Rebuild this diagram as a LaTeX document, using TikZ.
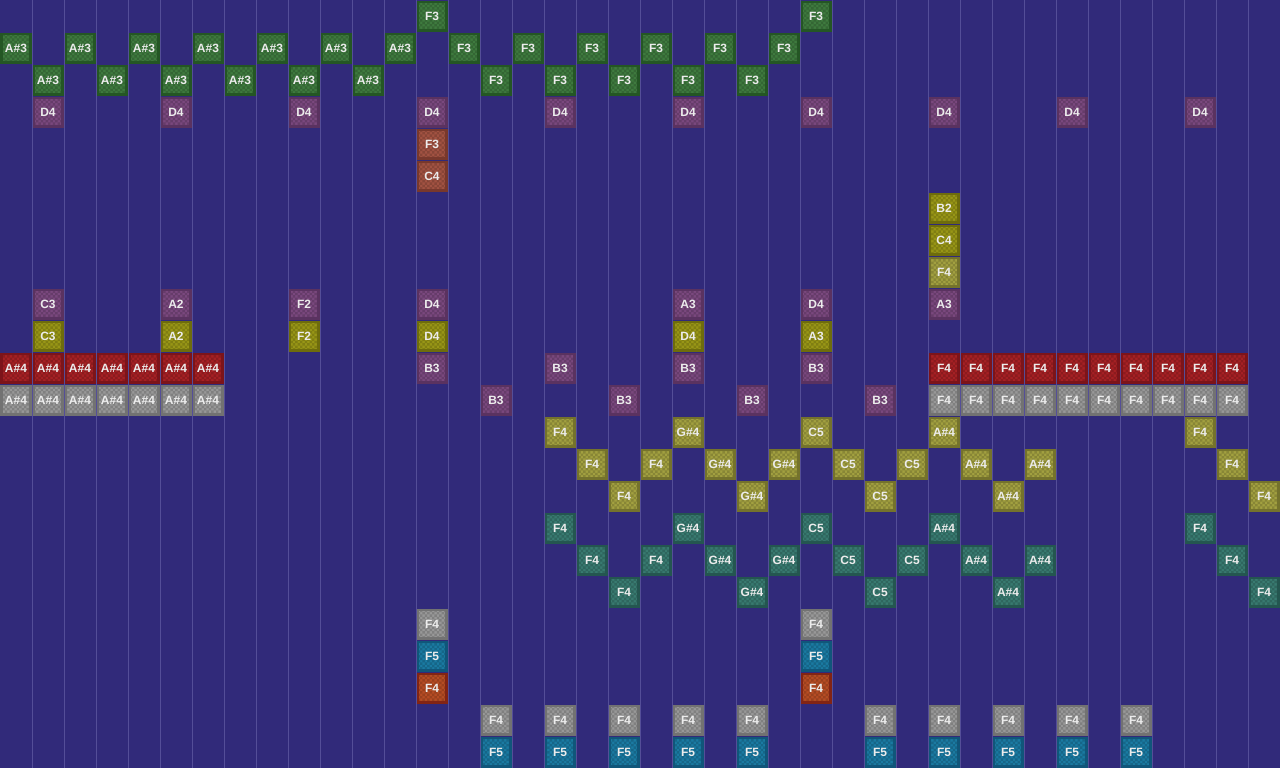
\documentclass[tikz,border=0pt]{standalone}
\usepackage{fontspec}
\setmainfont{Liberation Sans}
\usetikzlibrary{patterns}
\pgfdeclarepatternformonly{finecheck}{\pgfqpoint{-0.1pt}{-0.1pt}}{\pgfqpoint{2.5pt}{2.5pt}}{\pgfqpoint{2.4pt}{2.4pt}}{%
  \pgfpathrectangle{\pgfqpoint{0pt}{0pt}}{\pgfqpoint{1.2pt}{1.2pt}}%
  \pgfpathrectangle{\pgfqpoint{1.2pt}{1.2pt}}{\pgfqpoint{1.2pt}{1.2pt}}%
  \pgfusepath{fill}}
\definecolor{bg}{RGB}{49,42,122}
\definecolor{gridc}{RGB}{84,78,152}
\definecolor{txt}{RGB}{236,236,236}
\definecolor{gF}{RGB}{62,122,62}\definecolor{gB}{RGB}{36,86,36}
\definecolor{pF}{RGB}{122,72,126}\definecolor{pB}{RGB}{90,50,96}
\definecolor{bF}{RGB}{162,82,66}\definecolor{bB}{RGB}{120,56,44}
\definecolor{yF}{RGB}{152,150,22}\definecolor{yB}{RGB}{110,108,12}
\definecolor{kF}{RGB}{162,160,64}\definecolor{kB}{RGB}{116,114,44}
\definecolor{rF}{RGB}{166,32,36}\definecolor{rB}{RGB}{124,20,26}
\definecolor{aF}{RGB}{152,152,152}\definecolor{aB}{RGB}{114,114,114}
\definecolor{tF}{RGB}{56,122,112}\definecolor{tB}{RGB}{36,86,80}
\definecolor{cF}{RGB}{26,122,162}\definecolor{cB}{RGB}{16,86,122}
\definecolor{oF}{RGB}{182,76,36}\definecolor{oB}{RGB}{130,36,20}
\tikzset{
  block/.style n args={2}{rectangle, inner sep=0pt, minimum size=14.25pt,
    line width=1.25pt, draw=#2, preaction={fill=#1},
    preaction={pattern=finecheck, pattern color=#1!84!black},
    text=txt, font=\fontsize{6}{6}\selectfont\bfseries},
  green/.style={block={gF}{gB}},
  purple/.style={block={pF}{pB}},
  brown/.style={block={bF}{bB}},
  yellowb/.style={block={yF}{yB}},
  khaki/.style={block={kF}{kB}},
  redb/.style={block={rF}{rB}},
  grayb/.style={block={aF}{aB}},
  teal/.style={block={tF}{tB}},
  cyanb/.style={block={cF}{cB}},
  orangeb/.style={block={oF}{oB}},
  gridline/.style={draw=gridc, line width=0.5pt}
}
\newcommand\blk[4]{\node[#1] (n-#2-#3) at (#2+0.5,#3+0.5) {#4};}
\begin{document}
\begin{tikzpicture}[x=16pt,y=-16pt]
\fill[bg] (0,0) rectangle (40,24);
\useasboundingbox (0,0) rectangle (40,24);
\foreach \i in {1,...,39} \draw[gridline] (\i,0) -- (\i,24);
% green
\blk{green}{13}{0}{F3}\blk{green}{25}{0}{F3}
\foreach \c in {0,2,...,12} {\blk{green}{\c}{1}{A\#3}}
\foreach \c in {14,16,...,24} {\blk{green}{\c}{1}{F3}}
\foreach \c in {1,3,...,11} {\blk{green}{\c}{2}{A\#3}}
\foreach \c in {15,17,...,23} {\blk{green}{\c}{2}{F3}}
% purple
\foreach \c in {1,5,...,37} {\blk{purple}{\c}{3}{D4}}
\blk{purple}{1}{9}{C3}\blk{purple}{5}{9}{A2}\blk{purple}{9}{9}{F2}
\blk{purple}{13}{9}{D4}\blk{purple}{21}{9}{A3}\blk{purple}{25}{9}{D4}\blk{purple}{29}{9}{A3}
\foreach \c in {13,17,21,25} {\blk{purple}{\c}{11}{B3}}
\foreach \c in {15,19,23,27} {\blk{purple}{\c}{12}{B3}}
% brown
\blk{brown}{13}{4}{F3}\blk{brown}{13}{5}{C4}
% yellow
\blk{yellowb}{29}{6}{B2}\blk{yellowb}{29}{7}{C4}
\blk{yellowb}{1}{10}{C3}\blk{yellowb}{5}{10}{A2}\blk{yellowb}{9}{10}{F2}
\blk{yellowb}{13}{10}{D4}\blk{yellowb}{21}{10}{D4}\blk{yellowb}{25}{10}{A3}
% khaki
\blk{khaki}{29}{8}{F4}
\foreach \s/\o in {khaki/13,teal/16} {
  \pgfmathtruncatemacro\ra{\o}
  \pgfmathtruncatemacro\rb{\o+1}
  \pgfmathtruncatemacro\rc{\o+2}
  \blk{\s}{17}{\ra}{F4}\blk{\s}{21}{\ra}{G\#4}\blk{\s}{25}{\ra}{C5}\blk{\s}{29}{\ra}{A\#4}\blk{\s}{37}{\ra}{F4}
  \blk{\s}{18}{\rb}{F4}\blk{\s}{20}{\rb}{F4}\blk{\s}{22}{\rb}{G\#4}\blk{\s}{24}{\rb}{G\#4}
  \blk{\s}{26}{\rb}{C5}\blk{\s}{28}{\rb}{C5}\blk{\s}{30}{\rb}{A\#4}\blk{\s}{32}{\rb}{A\#4}\blk{\s}{38}{\rb}{F4}
  \blk{\s}{19}{\rc}{F4}\blk{\s}{23}{\rc}{G\#4}\blk{\s}{27}{\rc}{C5}\blk{\s}{31}{\rc}{A\#4}\blk{\s}{39}{\rc}{F4}
}
% red and gray
\foreach \c in {0,...,6} {\blk{redb}{\c}{11}{A\#4}\blk{grayb}{\c}{12}{A\#4}}
\foreach \c in {29,...,38} {\blk{redb}{\c}{11}{F4}\blk{grayb}{\c}{12}{F4}}
% bottom
\foreach \c in {13,25} {\blk{grayb}{\c}{19}{F4}\blk{cyanb}{\c}{20}{F5}\blk{orangeb}{\c}{21}{F4}}
\foreach \c in {15,17,19,21,23,27,29,31,33,35} {\blk{grayb}{\c}{22}{F4}\blk{cyanb}{\c}{23}{F5}}
\end{tikzpicture}
\end{document}
